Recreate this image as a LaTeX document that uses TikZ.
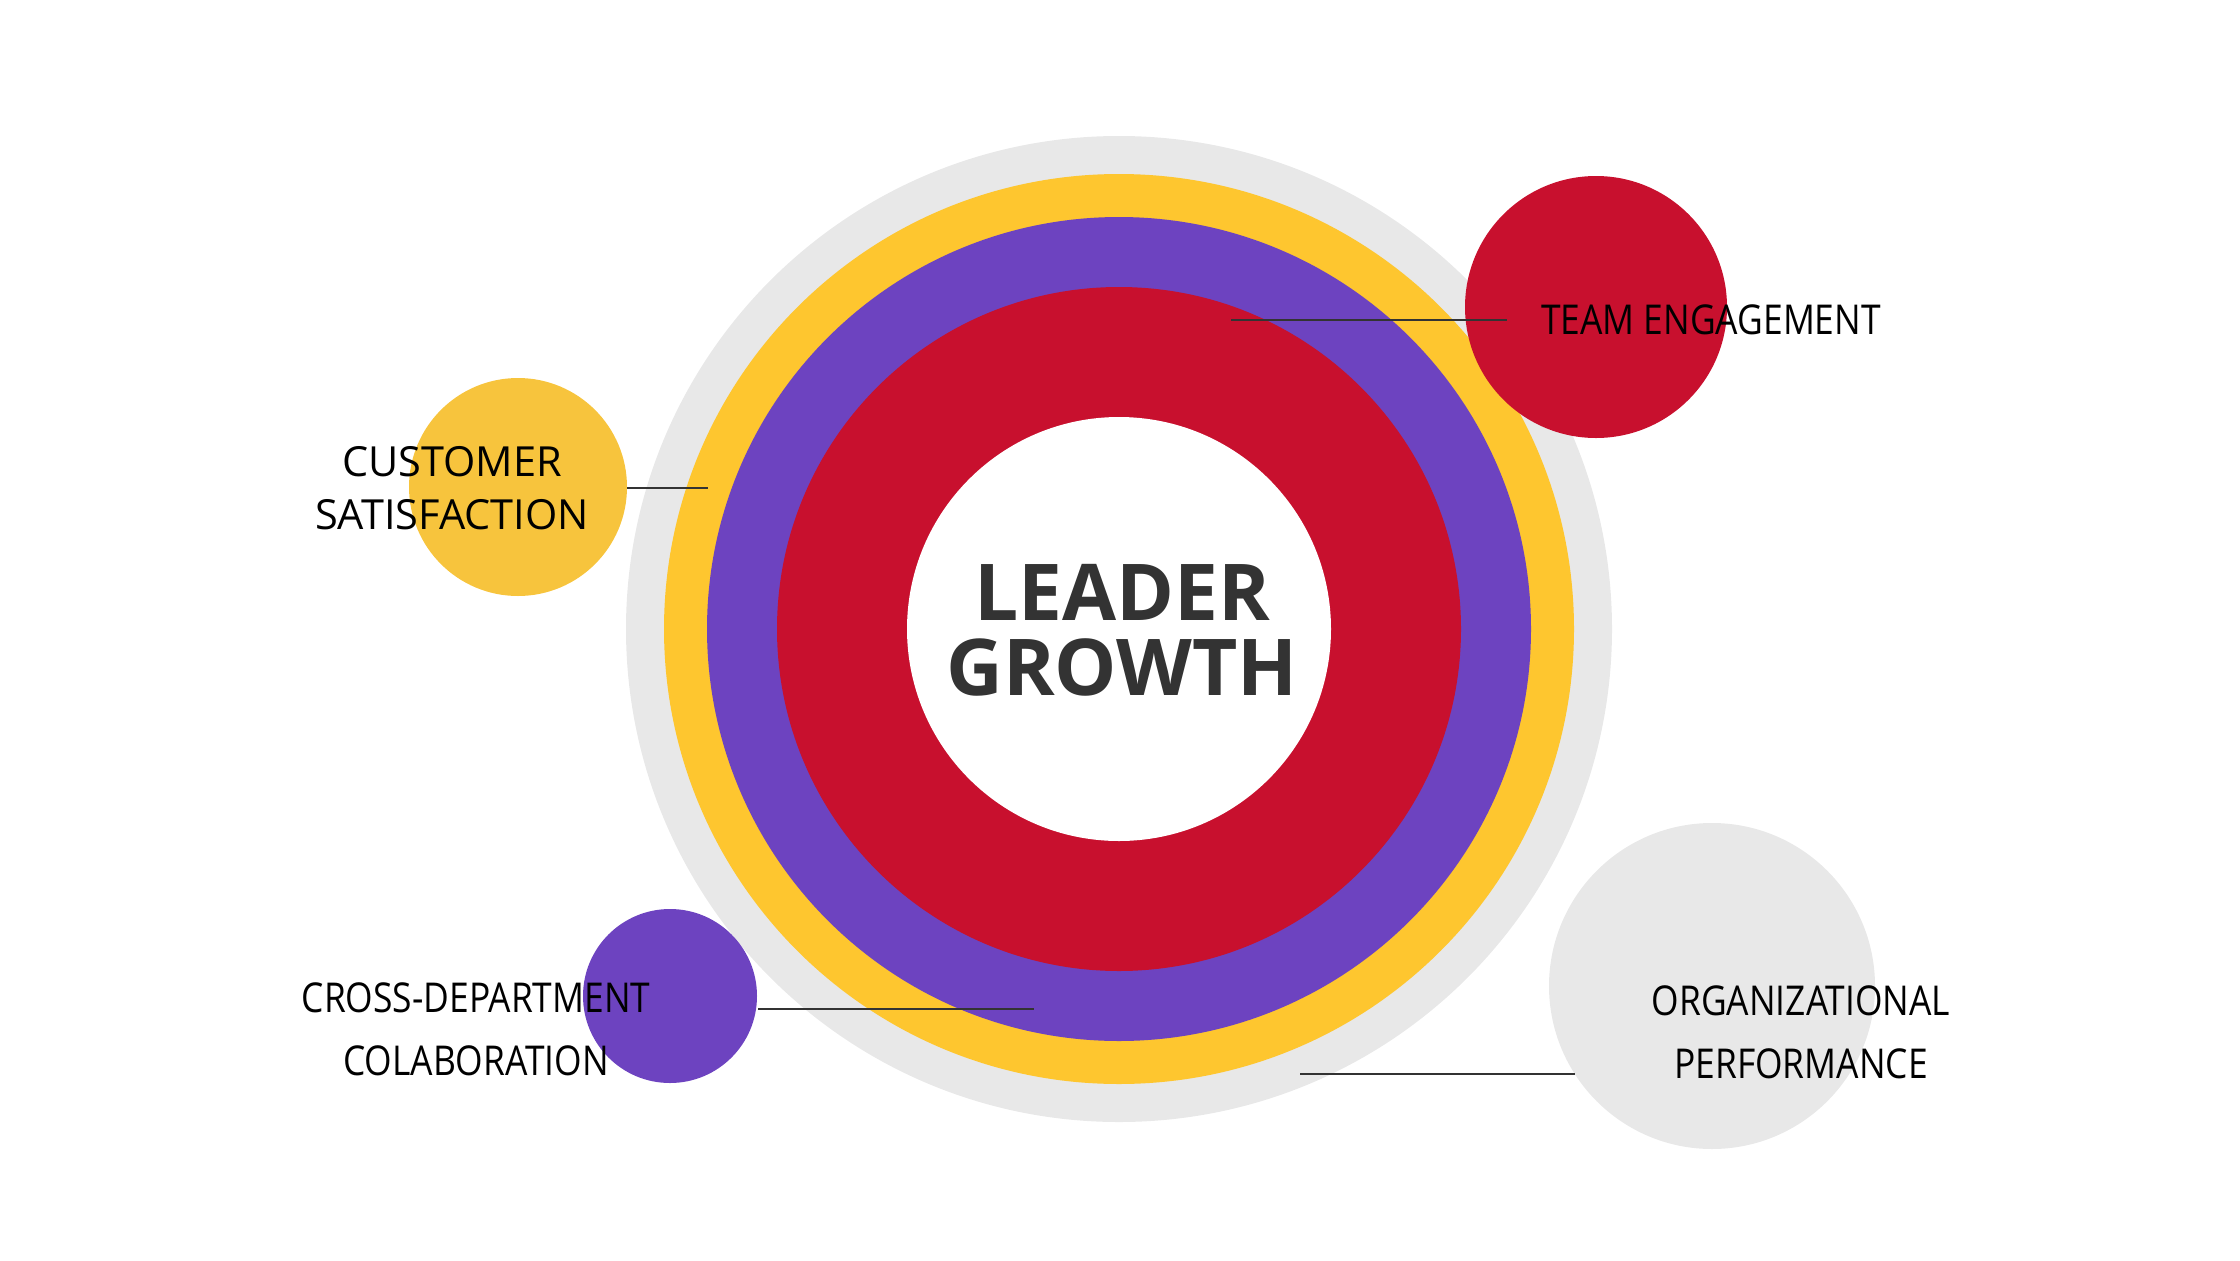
\documentclass[tikz,border=0pt]{standalone}
\usepackage{fontspec}
\setmainfont{Open Sans}
\newfontfamily\narrowfont[FakeStretch=0.86]{Open Sans}
\usetikzlibrary{positioning}

\definecolor{ringgrey}{HTML}{E8E8E8}
\definecolor{ringyellow}{HTML}{FEC62F}
\definecolor{dotyellow}{HTML}{F7C43D}
\definecolor{ringpurple}{HTML}{6D43C0}
\definecolor{ringred}{HTML}{C8102E}
\definecolor{inkgrey}{HTML}{333333}

\tikzset{
  disc/.style={circle, inner sep=0pt, outer sep=0pt, minimum size=#1},
  tag/.style={align=center, inner sep=0pt, text=black,
    font=\narrowfont\fontsize{11.7}{18}\selectfont},
  lead/.style={line width=0.8pt, draw=inkgrey}
}

\begin{document}
\begin{tikzpicture}
\useasboundingbox (0,0) rectangle (22.4,12.6);

% rings of the main target
\node[disc=9.86cm, fill=ringgrey]   (grey)   at (11.19,6.31) {};
\node[disc=9.10cm, fill=ringyellow] (yellow) at (11.19,6.31) {};
\node[disc=8.24cm, fill=ringpurple] (purple) at (11.19,6.31) {};
\node[disc=6.84cm, fill=ringred]    (red)    at (11.19,6.31) {};
\node[disc=4.24cm, fill=white]      (core)   at (11.19,6.31) {};

\node[align=center, text=inkgrey, font=\fontsize{22.3}{21.3}\selectfont\bfseries]
  (title) at (11.22,6.30) {LEADER\\GROWTH};

% satellite discs
\node[disc=2.62cm, fill=ringred]    (team)  at (15.96,9.53) {};
\node[disc=2.18cm, fill=dotyellow]  (cust)  at (5.18,7.73) {};
\node[disc=1.74cm, fill=ringpurple] (cross) at (6.70,2.64) {};
\node[disc=3.26cm, fill=ringgrey]   (org)   at (17.12,2.74) {};

% leader lines
\coordinate (teamA) at (12.31,9.40);
\coordinate (teamB) at (15.07,9.40);
\coordinate (custA) at (6.27,7.72);
\coordinate (custB) at (7.08,7.72);
\coordinate (crossA) at (7.58,2.51);
\coordinate (crossB) at (10.34,2.51);
\coordinate (orgA) at (13.00,1.86);
\coordinate (orgB) at (15.75,1.86);

\draw[lead] (teamA) -- (teamB);
\draw[lead] (custA) -- (custB);
\draw[lead] (crossA) -- (crossB);
\draw[lead] (orgA) -- (orgB);

% labels
\node[tag] (teamtxt) at (17.11,9.40) {TEAM ENGAGEMENT};
\node[tag, font=\fontsize{11.8}{15}\selectfont] (custtxt) at (4.52,7.72) {CUSTOMER\\SATISFACTION};
\node[tag] (crosstxt) at (4.76,2.31) {CROSS-DEPARTMENT\\COLABORATION};
\node[tag] (orgtxt) at (18.01,2.28) {ORGANIZATIONAL\\PERFORMANCE};
\end{tikzpicture}
\end{document}
